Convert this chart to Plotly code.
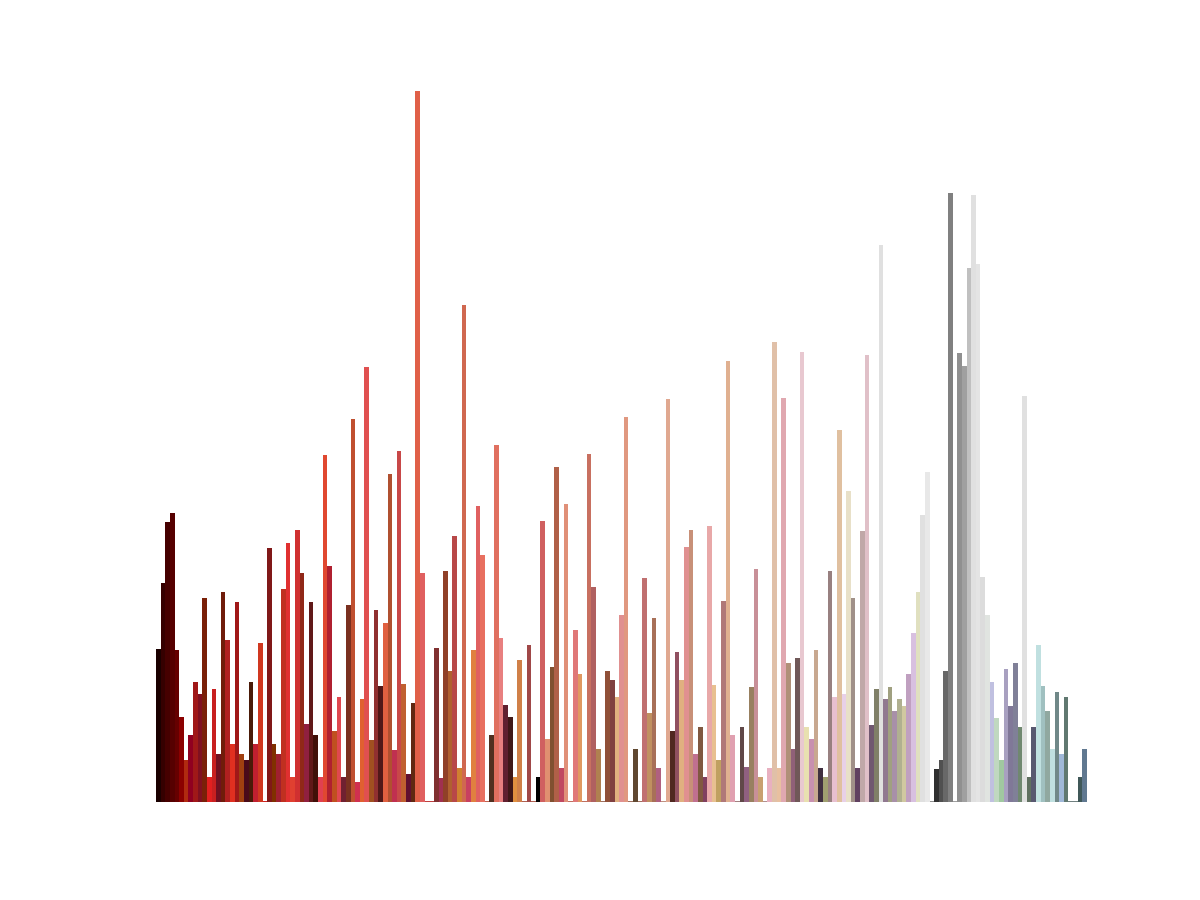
import plotly.graph_objects as go

# bar heights and bar colours, left to right
heights = [
    153, 219, 280, 289, 152, 85, 42, 67, 120, 108,
    204, 25, 113, 48, 210, 162, 58, 200, 48, 42,
    120, 58, 159, 1, 254, 58, 48, 213, 259, 25,
    272, 229, 78, 200, 67, 25, 347, 236, 71, 105,
    25, 197, 383, 20, 103, 435, 62, 192, 116, 179,
    328, 52, 351, 118, 28, 99, 711, 229, 1, 1,
    154, 24, 231, 131, 266, 34, 497, 25, 152, 296,
    247, 1, 67, 357, 164, 97, 85, 25, 142, 1,
    157, 1, 25, 281, 63, 135, 335, 34, 298, 1,
    172, 128, 1, 348, 215, 53, 1, 131, 122, 105,
    187, 385, 1, 53, 1, 224, 89, 184, 34, 1,
    403, 71, 150, 122, 255, 272, 48, 75, 25, 276,
    117, 42, 201, 441, 67, 1, 75, 35, 115, 233,
    25, 1, 34, 460, 34, 404, 139, 53, 144, 450,
    75, 63, 152, 34, 25, 231, 105, 372, 108, 311,
    204, 34, 271, 447, 77, 113, 557, 103, 115, 91,
    103, 96, 128, 169, 210, 287, 330, 1, 33, 42,
    131, 609, 1, 449, 436, 534, 607, 538, 225, 187,
    120, 84, 42, 133, 96, 139, 75, 406, 25, 75,
    157, 116, 91, 53, 110, 48, 105, 1, 1, 25,
    53,
]

colors = [
    "#1a0000", "#350000", "#460000", "#560000", "#660000", "#8b0000", "#b02a10", "#900020", "#a01818", "#801020",
    "#7a2008", "#e02020", "#c82020", "#701020", "#701c0a", "#b02020", "#e03020", "#a01818", "#a04010", "#4a0a1a",
    "#4a1a08", "#c02030", "#d03820", "#d02020", "#801818", "#803000", "#a02030", "#c03020", "#e03030", "#e04030",
    "#d03030", "#902818", "#902040", "#601818", "#401008", "#e04050", "#e04830", "#b02030", "#c05020", "#e04850",
    "#702030", "#7a3020", "#c05030", "#d03050", "#e06030", "#e05050", "#a05020", "#903030", "#501818", "#e06040",
    "#b05030", "#c03050", "#c84848", "#c06030", "#601030", "#602810", "#e06048", "#e06060", "#c04040", "#c04040",
    "#803030", "#a03050", "#904028", "#b06030", "#b84848", "#d08030", "#d06850", "#c84060", "#e08040", "#e06060",
    "#e87060", "#c06050", "#503020", "#e07060", "#e88080", "#602030", "#401818", "#e09040", "#d08048", "#b06050",
    "#a04848", "#b06050", "#000000", "#d06060", "#e09070", "#805030", "#b06048", "#c04860", "#e09078", "#c07060",
    "#e07878", "#e09860", "#c07060", "#c87060", "#b06060", "#b08050", "#a07060", "#905038", "#804040", "#e0b080",
    "#e09090", "#e09880", "#a07060", "#604830", "#a07060", "#c07070", "#c09060", "#a87058", "#b06080", "#c09080",
    "#e0a890", "#502820", "#905060", "#e0b080", "#e09090", "#c89078", "#c07090", "#805840", "#804060", "#e8a8a8",
    "#e8c090", "#c0a060", "#b07878", "#e0b090", "#e0a0b0", "#a08080", "#604848", "#906080", "#988060", "#c89098",
    "#c8a070", "#b09090", "#e8b0c0", "#e0c0a8", "#e8c0a0", "#e0a8b0", "#b09078", "#906078", "#705858", "#e8c8d0",
    "#e8e0b0", "#c890b0", "#c8a890", "#403040", "#a0a070", "#988080", "#e8c0d0", "#e0c0a0", "#e8d0e8", "#e8e0c8",
    "#a09088", "#604060", "#c0a8a8", "#e0c0c8", "#705870", "#808068", "#e0e0e0", "#907890", "#a0a080", "#a890a8",
    "#b0b090", "#d0c8a0", "#c0a0c0", "#d8c0e0", "#e0e0c0", "#e0e0e0", "#e8e8e8", "#909090", "#303030", "#505050",
    "#686868", "#808080", "#a0a0a0", "#909090", "#a0a0a0", "#c0c0c0", "#e0e0e0", "#e4e4e4", "#dcdcdc", "#e0e4e0",
    "#c0c0e0", "#c0d8c0", "#a0c8a0", "#a8a0c0", "#807898", "#808098", "#708870", "#e0e0e0", "#607060", "#585870",
    "#c0e0e0", "#a0c0c0", "#90a8a0", "#c0e0e0", "#708888", "#a0b8d8", "#607870", "#708080", "#708080", "#405858",
    "#607890",
]

positions = list(range(len(heights)))

fig = go.Figure()

fig.add_trace(go.Bar(
    x=positions,
    y=heights,
    marker=dict(color=colors, line=dict(width=0)),
    hoverinfo='skip',
))

# page body adds an 8px offset, so margins are shifted to land on the reference pixels
fig.update_layout(
    width=1200,
    height=900,
    margin=dict(l=148, r=121, t=83, b=106),
    paper_bgcolor='white',
    plot_bgcolor='white',
    bargap=0,
    showlegend=False,
    xaxis=dict(visible=False, range=[-0.5, len(heights) - 0.5]),
    yaxis=dict(visible=False, range=[0, 711]),
)

fig.write_html("out.html")
